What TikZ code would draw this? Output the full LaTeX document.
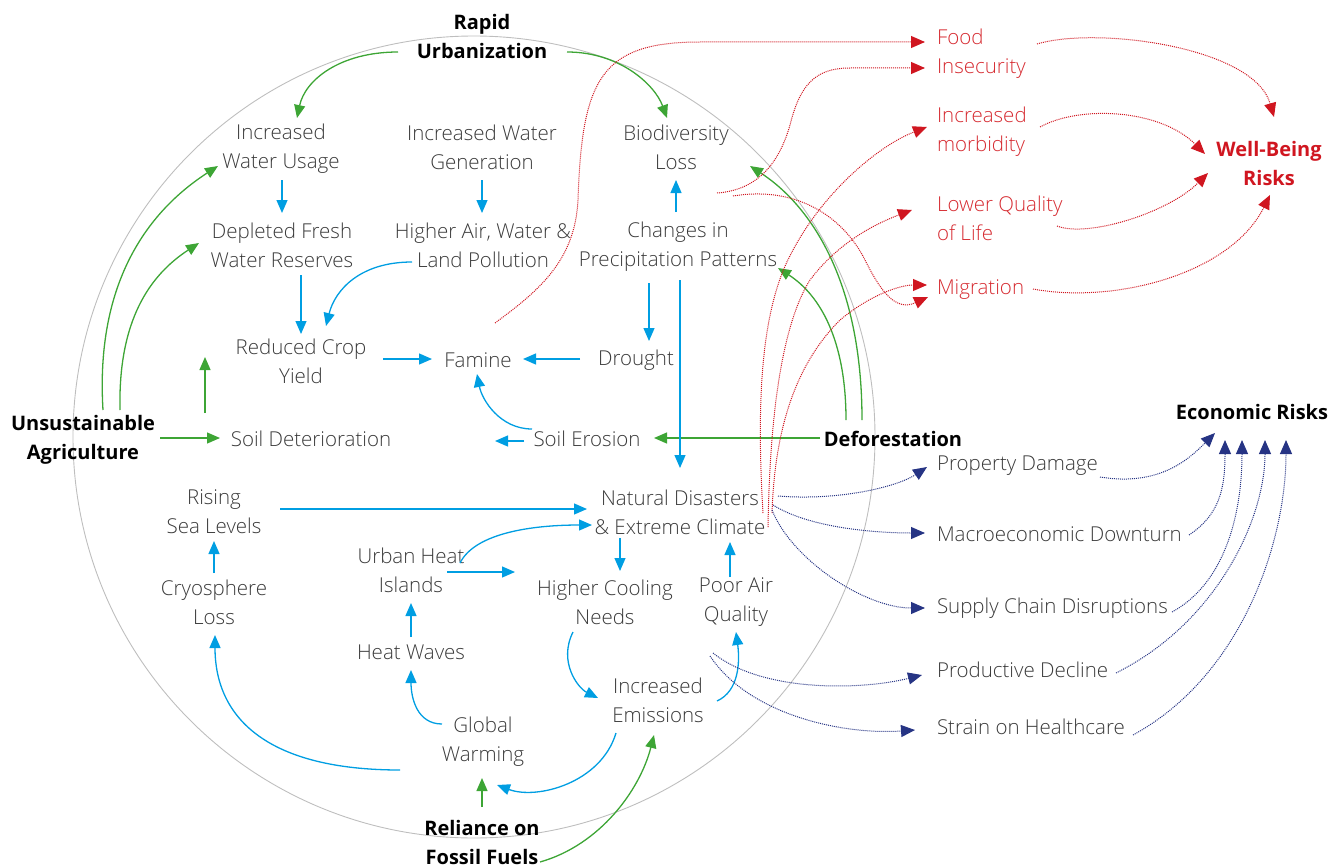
\documentclass[tikz,border=0pt]{standalone}
\usepackage{fontspec}
\setmainfont{Open Sans}
\newfontfamily\boldfam{Open Sans}
\IfFontExistsTF{Open Sans Light}{\newfontfamily\lightfam{Open Sans Light}}{%
 \IfFontExistsTF{OpenSans-Light.ttf}{\newfontfamily\lightfam{OpenSans-Light.ttf}}{%
  \IfFontExistsTF{OpenSans-Light.otf}{\newfontfamily\lightfam{OpenSans-Light.otf}}{%
   \newfontfamily\lightfam{Open Sans}}}}
\usetikzlibrary{arrows.meta,calc}
\definecolor{grn}{RGB}{61,165,53}
\definecolor{blu}{RGB}{0,158,226}
\definecolor{rdl}{RGB}{208,22,32}
\definecolor{rdt}{RGB}{214,44,50}
\definecolor{nav}{RGB}{38,52,132}
\definecolor{txtgray}{RGB}{58,58,58}
\definecolor{circ}{RGB}{190,190,190}
\begin{document}
\begin{tikzpicture}[x=1pt,y=-1pt,
 every node/.style={inner sep=0pt,outer sep=0pt},
 txt/.style={font=\lightfam\fontsize{20.5}{29}\selectfont,text=txtgray,align=center},
 bld/.style={font=\boldfam\bfseries\fontsize{20}{29}\selectfont,text=black,align=center},
 redt/.style={font=\lightfam\fontsize{20.5}{29}\selectfont,text=rdt,align=left,anchor=west},
 redb/.style={font=\boldfam\bfseries\fontsize{20}{29}\selectfont,text=rdl,align=center},
 navt/.style={font=\lightfam\fontsize{20.5}{29}\selectfont,text=txtgray,align=left,anchor=west},
 garr/.style={draw=grn,line width=1.3pt,-{Triangle[length=13pt,width=11pt]},fill=none},
 barr/.style={draw=blu,line width=1.3pt,-{Triangle[length=13pt,width=11pt]}},
 rarr/.style={draw=rdl,line width=1pt,dash pattern=on 1pt off 1pt,-{Triangle[length=14pt,width=12pt]}},
 narr/.style={draw=nav,line width=1pt,dash pattern=on 1pt off 1pt,-{Triangle[length=14pt,width=12pt]}},
]
\useasboundingbox (0,0) rectangle (1341,867);
\draw[circ,line width=0.9pt] (474,437) circle (401);

% nodes
\node[bld] (ru) at (482,37) {Rapid\\Urbanization};
\node[txt] (iwu) at (281,149) {Increased\\Water Usage};
\node[txt] (iwg) at (482,147) {Increased Water\\Generation};
\node[txt] (bio) at (676,147) {Biodiversity\\Loss};
\node[txt] (dfw) at (282,245) {Depleted Fresh\\Water Reserves};
\node[txt] (hap) at (483,245) {Higher Air, Water \&\\Land Pollution};
\node[txt] (cpp) at (678,247) {Changes in\\Precipitation Patterns};
\node[txt] (rcy) at (301,361) {Reduced Crop\\Yield};
\node[txt] (fam) at (478,360) {Famine};
\node[txt] (dro) at (636,360) {Drought};
\node[bld] (ua) at (83,440) {Unsustainable\\Agriculture};
\node[txt] (sd) at (311,439) {Soil Deterioration};
\node[txt] (se) at (587,439) {Soil Erosion};
\node[bld] (def) at (893,439) {Deforestation};
\node[bld] (er) at (1252,412) {Economic Risks};
\node[txt] (rsl) at (214,512) {Rising\\Sea Levels};
\node[txt] (nd) at (680,512) {Natural Disasters\\\& Extreme Climate};
\node[txt] (uhi) at (411,570) {Urban Heat\\Islands};
\node[txt] (cl) at (214,602) {Cryosphere\\Loss};
\node[txt] (hcn) at (605,602) {Higher Cooling\\Needs};
\node[txt] (paq) at (736,602) {Poor Air\\Quality};
\node[txt] (hw) at (411,652) {Heat Waves};
\node[txt] (ie) at (658,700) {Increased\\Emissions};
\node[txt] (gw) at (483,742) {Global\\Warming};
\node[bld] (rff) at (482,842) {Reliance on\\Fossil Fuels};

\node[redt] (fi) at (937,54) {Food\\Insecurity};
\node[redt] (im) at (937,132) {Increased\\morbidity};
\node[redt] (lql) at (937,218) {Lower Quality\\of Life};
\node[redt] (mig) at (937,290) {Migration};
\node[redb] (wb) at (1269,163) {Well-Being\\Risks};

\node[navt] (pd) at (937,466) {Property Damage};
\node[navt] (md) at (937,534) {Macroeconomic Downturn};
\node[navt] (scd) at (937,608) {Supply Chain Disruptions};
\node[navt] (pdc) at (937,670) {Productive Decline};
\node[navt] (soh) at (937,727) {Strain on Healthcare};

\coordinate (sefree) at (495,441);

% green
\draw[garr] ($(ru)+(-84,15)$) .. controls +(-58,0) and +(8,-38) .. ($(iwu)+(16,-31)$);
\draw[garr] ($(ru)+(85,15)$) .. controls +(53,0) and +(-12,-33) .. ($(bio)+(-9,-29)$);
\draw[garr] ($(ua)+(20,-30)$) .. controls +(-8,-130) and +(-68,44) .. ($(iwu)+(-63,17)$);
\draw[garr] ($(ua)+(37,-30)$) .. controls +(-2,-90) and +(-49,32) .. ($(dfw)+(-83,-2)$);
\draw[garr] ($(ua)+(77,-2)$) -- ($(sd)+(-91,-1)$);
\draw[garr] ($(sd)+(-106,-26)$) -- ($(rcy)+(-96,-4)$);
\draw[garr] ($(def)+(-73,-1)$) -- ($(se)+(67,-1)$);
\draw[garr] ($(def)+(-47,-19)$) .. controls +(0,-80) and +(42,27) .. ($(cpp)+(100,21)$);
\draw[garr] ($(def)+(-31,-19)$) .. controls +(0,-140) and +(60,39) .. ($(bio)+(74,19)$);
\draw[garr] ($(rff)+(0,-35)$) -- ($(gw)+(-1,36)$);
\draw[garr] ($(rff)+(58,20)$) .. controls +(60,-17) and +(-14,55) .. ($(ie)+(-4,35)$);

% blue
\draw[barr] ($(iwu)+(1,31)$) -- ($(dfw)+(0,-32)$);
\draw[barr] ($(iwg)+(0,33)$) -- ($(hap)+(-1,-32)$);
\draw[barr] ($(dfw)+(19,30)$) -- ($(rcy)+(0,-27)$);
\draw[barr] ($(hap)+(-71,17)$) .. controls +(-52,0) and +(9,-36) .. ($(rcy)+(25,-35)$);
\draw[barr] ($(cpp)+(-2,-35)$) -- ($(bio)+(0,33)$);
\draw[barr] ($(cpp)+(-29,36)$) -- ($(dro)+(13,-19)$);
\draw[barr] ($(cpp)+(2,33)$) -- ($(nd)+(0,-44)$);
\draw[barr] ($(rcy)+(82,-2)$) -- ($(fam)+(-46,-1)$);
\draw[barr] ($(dro)+(-56,-1)$) -- ($(fam)+(45,-1)$);
\draw[barr] ($(se)+(-55,-10)$) .. controls +(-32,0) and +(5,26) .. ($(fam)+(-1,14)$);
\draw[barr] ($(se)+(-63,2)$) -- (sefree);
\draw[barr] ($(rsl)+(66,-3)$) -- ($(nd)+(-93,-3)$);
\draw[barr] ($(cl)+(0,-29)$) -- ($(rsl)+(0,29)$);
\draw[barr] ($(uhi)+(49,-7)$) .. controls +(15,-30) and +(-60,0) .. ($(nd)+(-88,13)$);
\draw[barr] ($(uhi)+(36,2)$) -- ($(hcn)+(-90,-30)$);
\draw[barr] ($(nd)+(-60,26)$) -- ($(hcn)+(15,-31)$);
\draw[barr] ($(paq)+(-6,-25)$) -- ($(nd)+(50,30)$);
\draw[barr] ($(hw)+(0,-15)$) -- ($(uhi)+(0,33)$);
\draw[barr] ($(gw)+(-41,-18)$) .. controls +(-25,0) and +(0,28) .. ($(hw)+(0,18)$);
\draw[barr] ($(gw)+(-83,28)$) .. controls +(-130,0) and +(0,85) .. ($(cl)+(1,33)$);
\draw[barr] ($(hcn)+(-32,30)$) .. controls +(-15,30) and +(-20,-10) .. ($(ie)+(-60,-2)$);
\draw[barr] ($(ie)+(59,1)$) .. controls +(22,-10) and +(4,30) .. ($(paq)+(0,30)$);
\draw[barr] ($(ie)+(-42,33)$) .. controls +(-15,50) and +(40,15) .. ($(gw)+(14,43)$);

% red dotted
\draw[rarr] ($(fam)+(17,-37)$) .. controls (540,290) and (575,260) .. (578,200) .. controls (582,80) and (600,42) .. (700,42) -- ($(fi.west)+(-12,-12)$);
\draw[rarr] ($(bio)+(41,46)$) .. controls (760,190) and (780,160) .. (790,125) .. controls (800,85) and (815,68) .. (850,68) -- ($(fi.west)+(-12,14)$);
\draw[rarr] ($(bio)+(57,49)$) .. controls (800,185) and (845,220) .. (865,260) .. controls (880,290) and (895,312) .. ($(mig.west)+(-9,7)$);
\draw[rarr] ($(nd)+(83,1)$) .. controls (755,380) and (765,300) .. (793,250) .. controls (825,190) and (880,145) .. ($(im.west)+(-10,-5)$);
\draw[rarr] ($(nd)+(88,15)$) .. controls (770,400) and (785,320) .. (810,280) .. controls (840,240) and (880,222) .. ($(lql.west)+(-25,-8)$);
\draw[rarr] ($(nd)+(92,1)$) .. controls (775,420) and (800,360) .. (840,320) .. controls (870,295) and (900,285) .. ($(mig.west)+(-10,-5)$);

\draw[rarr] ($(fi.west)+(100,-10)$) .. controls +(60,-18) and +(-20,-70) .. ($(wb)+(5,-46)$);
\draw[rarr] ($(im.west)+(103,-5)$) .. controls +(40,-22) and +(-45,-45) .. ($(wb)+(-64,-9)$);
\draw[rarr] ($(lql.west)+(120,8)$) .. controls +(30,12) and +(-40,40) .. ($(wb)+(-61,10)$);
\draw[rarr] ($(mig.west)+(96,-1)$) .. controls +(80,15) and +(-40,80) .. ($(wb)+(1,32)$);

% navy dotted
\draw[narr] ($(nd)+(98,-16)$) .. controls +(60,5) and +(-30,20) .. ($(pd.west)+(-10,1)$);
\draw[narr] ($(nd)+(93,-7)$) .. controls +(40,25) and +(-40,0) .. ($(md.west)+(-12,-1)$);
\draw[narr] ($(nd)+(92,-2)$) .. controls +(20,50) and +(-60,0) .. ($(scd.west)+(-12,0)$);
\draw[narr] ($(paq)+(-23,51)$) .. controls +(50,40) and +(-60,15) .. ($(pdc.west)+(-15,5)$);
\draw[narr] ($(paq)+(-26,54)$) .. controls +(40,60) and +(-70,5) .. ($(soh.west)+(-22,3)$);

\draw[narr] ($(pd.west)+(163,11)$) .. controls +(60,10) and +(-25,25) .. ($(er)+(-37,21)$);
\draw[narr] ($(md.west)+(252,1)$) .. controls +(30,-20) and +(0,50) .. ($(er)+(-27,28)$);
\draw[narr] ($(scd.west)+(235,4)$) .. controls +(55,-30) and +(0,70) .. ($(er)+(-10,28)$);
\draw[narr] ($(pdc.west)+(179,3)$) .. controls +(100,-50) and +(0,80) .. ($(er)+(13,28)$);
\draw[narr] ($(soh.west)+(196,8)$) .. controls +(110,-60) and +(0,100) .. ($(er)+(34,28)$);
\end{tikzpicture}
\end{document}
